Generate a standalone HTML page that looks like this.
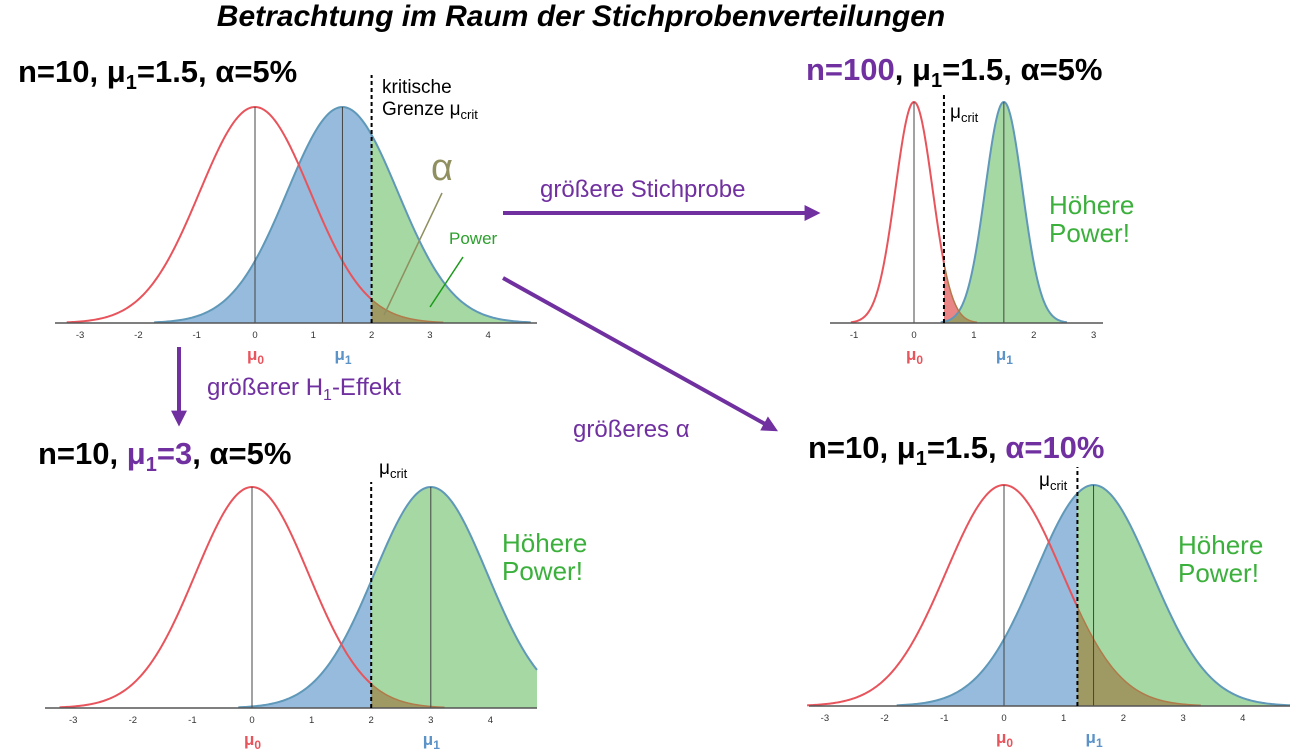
<!DOCTYPE html>
<html><head><meta charset="utf-8">
<style>
html,body{margin:0;padding:0;background:#fff;}
body{width:1301px;height:753px;overflow:hidden;position:relative;font-family:"Liberation Sans",sans-serif;}
svg{position:absolute;left:0;top:0;}
</style></head>
<body>
<svg id="fig" width="1301" height="753" viewBox="0 0 1301 753" xmlns="http://www.w3.org/2000/svg">
<defs>
<marker id="ah" markerWidth="16" markerHeight="16" refX="10" refY="7" orient="auto" markerUnits="userSpaceOnUse" viewBox="0 0 14 14">
<path d="M0,0 L14,7 L0,14 z" fill="#7030a0"/></marker>
</defs>
<text x="581" y="26" text-anchor="middle" font-size="30" font-weight="bold" font-style="italic" fill="#000">Betrachtung im Raum der Stichprobenverteilungen</text>

<g font-weight="bold" font-size="31">
<text x="18" y="82">n=10, μ<tspan font-size="20" dy="7">1</tspan><tspan dy="-7">=1.5, α=5%</tspan></text>
<text x="806" y="80"><tspan fill="#7030a0">n=100</tspan>, μ<tspan font-size="20" dy="7">1</tspan><tspan dy="-7">=1.5, α=5%</tspan></text>
<text x="38" y="464">n=10, <tspan fill="#7030a0">μ<tspan font-size="20" dy="7">1</tspan><tspan dy="-7">=3</tspan></tspan>, α=5%</text>
<text x="808" y="458">n=10, μ<tspan font-size="20" dy="7">1</tspan><tspan dy="-7">=1.5, </tspan><tspan fill="#7030a0">α=10%</tspan></text>
</g>

<g id="panels"></g>

<g font-size="19" fill="#000">
<text x="382" y="93">kritische</text>
<text x="382" y="115">Grenze μ<tspan font-size="13" dy="4">crit</tspan></text>
<text x="950" y="118">μ<tspan font-size="13" dy="4">crit</tspan></text>
<text x="379" y="474">μ<tspan font-size="13" dy="4">crit</tspan></text>
<text x="1039" y="486">μ<tspan font-size="13" dy="4">crit</tspan></text>
</g>

<text x="431" y="180" font-size="38" fill="#8f8f60">α</text>
<line x1="442" y1="193" x2="384" y2="315" stroke="#8f8f60" stroke-width="1.5"/>
<text x="449" y="244" font-size="17" fill="#2ca02c">Power</text>
<line x1="463" y1="257" x2="430" y2="307" stroke="#1a9a1a" stroke-width="1.5"/>

<g font-size="26" fill="#3cb03c">
<text x="1049" y="214">Höhere</text>
<text x="1049" y="242">Power!</text>
<text x="502" y="552">Höhere</text>
<text x="502" y="580">Power!</text>
<text x="1178" y="554">Höhere</text>
<text x="1178" y="582">Power!</text>
</g>

<g fill="#7030a0" font-size="24">
<line x1="503" y1="213" x2="816" y2="213" stroke="#7030a0" stroke-width="4" marker-end="url(#ah)"/>
<text x="540" y="197">größere Stichprobe</text>
<line x1="503" y1="278" x2="774" y2="429" stroke="#7030a0" stroke-width="4" marker-end="url(#ah)"/>
<text x="573" y="437">größeres α</text>
<line x1="179" y1="347" x2="179" y2="422" stroke="#7030a0" stroke-width="4" marker-end="url(#ah)"/>
<text x="207" y="395">größerer H<tspan font-size="16" dy="5">1</tspan><tspan dy="-5">-Effekt</tspan></text>
</g>
</svg>
<script>
// data per panel
const panelIds = ["p1","p2","p3","p4"];
const mu0Values = [0, 0, 0, 0];
const mu1Values = [1.5, 1.5, 3, 1.5];
const sdValues = [0.95, 0.31, 0.95, 0.97];
const critValues = [2, 0.5, 2, 1.23];
const tickLabelsA = [-3,-2,-1,0,1,2,3,4];
const tickLabelsB = [-1,0,1,2,3];
const panelTicks = [tickLabelsA, tickLabelsB, tickLabelsA, tickLabelsA];

// layout (not data)
const layout = [
  {x0:255, ppu:58.3, base:323, h:216, xmin:55, xmax:537, dashTop:75},
  {x0:914, ppu:59.9, base:323, h:221, xmin:830, xmax:1103, dashTop:95},
  {x0:252, ppu:59.6, base:708, h:221, xmin:45, xmax:537, dashTop:482},
  {x0:1004, ppu:59.7, base:706, h:221, xmin:809, xmax:1290, dashTop:467}
];
const NS = "http://www.w3.org/2000/svg";
const root = document.getElementById("panels");
function mk(tag, attrs, parent){ const e=document.createElementNS(NS,tag); for(const k in attrs) e.setAttribute(k,attrs[k]); parent.appendChild(e); return e; }

panelIds.forEach((pid, i) => {
  const L = layout[i], mu0 = mu0Values[i], mu1 = mu1Values[i], sd = sdValues[i], crit = critValues[i];
  const sx = v => L.x0 + v*L.ppu;
  const uMax = (L.xmax - L.x0)/L.ppu;
  const pdf = (v, m) => Math.exp(-0.5*((v-m)/sd)**2);
  const sy = p => L.base - p*L.h;
  const span = 3.4*sd;
  const g = mk("g", {}, root);
  
  
  function area(a, b, f){
    if (b <= a) return "";
    let d = "M" + sx(a) + "," + L.base;
    const n = 160;
    for (let k=0;k<=n;k++){ const v=a+(b-a)*k/n; d += " L" + sx(v).toFixed(2) + "," + sy(f(v)).toFixed(2); }
    return d + " L" + sx(b) + "," + L.base + " Z";
  }
  function curve(a, b, f){
    let d = ""; const n=200;
    for (let k=0;k<=n;k++){ const v=a+(b-a)*k/n; d += (k?" L":"M") + sx(v).toFixed(2) + "," + sy(f(v)).toFixed(2); }
    return d;
  }
  const bA = mu1-span, bB = Math.min(mu1+span, uMax);
  const rA = mu0-span, rB = Math.min(mu0+span, uMax);
  const blue = v => pdf(v,mu1), red = v => pdf(v,mu0);
  const beta = mk("path", {d: area(bA, Math.min(crit,bB), blue), fill:"#96bbdc"}, g);
  
  
  const pow = mk("path", {d: area(Math.max(crit,bA), bB, blue), fill:"#a5d8a2"}, g);
  
  
  const alphaR = mk("path", {d: area(crit, rB, red), fill:"#e98585"}, g);
  
  
  const ov = mk("path", {d: area(Math.max(crit,bA), Math.min(rB,bB), v => Math.min(red(v), (v>=bA&&v<=bB)?blue(v):0)), fill:"#9f9a64"}, g);
  
  
  const bl = mk("path", {d: curve(bA, bB, blue), fill:"none", stroke:"#5f98b8", "stroke-width":2}, g);
  
  
  const rl = mk("path", {d: curve(rA, crit, red), fill:"none", stroke:"#e8545c", "stroke-width":2}, g);
  
  
  const rl2 = mk("path", {d: curve(crit, rB, red), fill:"none", stroke:"#b07a4a", "stroke-width":1.5}, g);
  
  
  const m0 = mk("line", {x1:sx(mu0), x2:sx(mu0), y1:L.base, y2:sy(1), stroke:"#444", "stroke-width":1}, g);
  
  
  const m1 = mk("line", {x1:sx(mu1), x2:sx(mu1), y1:L.base, y2:sy(1), stroke:"#444", "stroke-width":1}, g);
  
  
  const ax = mk("line", {x1:L.xmin, x2:L.xmax, y1:L.base, y2:L.base, stroke:"#555", "stroke-width":1.5}, g);
  
  
  panelTicks[i].forEach(t => {
    const tl = mk("text", {x:sx(t), y:L.base+15, "font-size":9.5, "text-anchor":"middle", fill:"#333"}, g);
    tl.textContent = t;
    
    
  });
  const cr = mk("line", {x1:sx(crit), x2:sx(crit), y1:L.base, y2:L.dashTop, stroke:"#000", "stroke-width":2, "stroke-dasharray":"4,3"}, g);
  
  
  const l0 = mk("text", {x:sx(mu0)-8, y:L.base+37, "font-size":17, "font-weight":"bold", fill:"#e8545c"}, g);
  l0.innerHTML = 'μ<tspan font-size="12" dy="4">0</tspan>';
  
  
  const l1 = mk("text", {x:sx(mu1)-8, y:L.base+37, "font-size":17, "font-weight":"bold", fill:"#5b92c8"}, g);
  l1.innerHTML = 'μ<tspan font-size="12" dy="4">1</tspan>';
  
  
});
</script>
</body></html>
